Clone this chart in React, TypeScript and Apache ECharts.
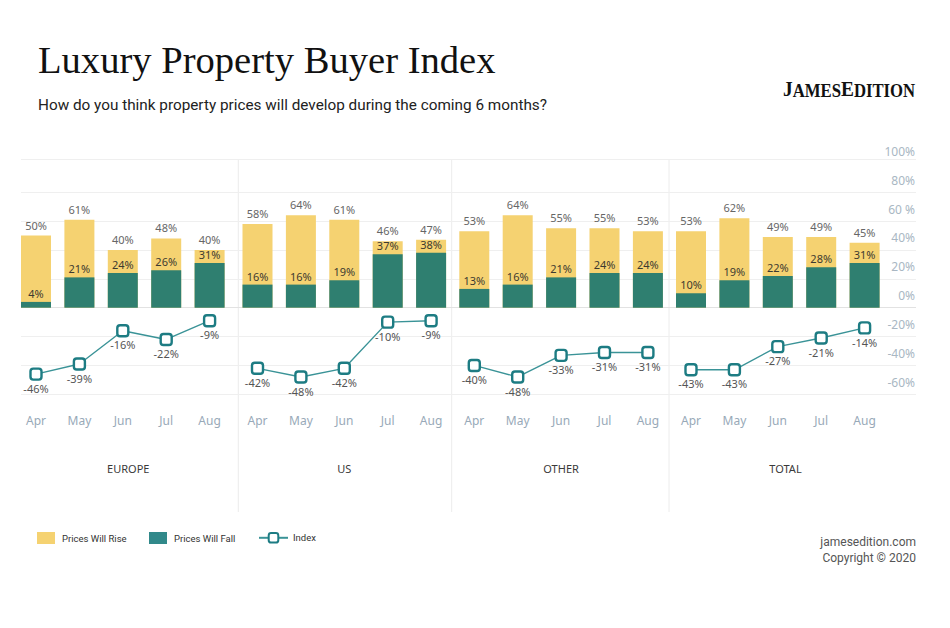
import React, { useEffect, useRef } from "react";
import * as echarts from "echarts";

// ---------- data ----------
const panels = ["EUROPE", "US", "OTHER", "TOTAL"];
const months = ["Apr", "May", "Jun", "Jul", "Aug"];

const riseEurope = [50, 61, 40, 48, 40];
const fallEurope = [4, 21, 24, 26, 31];
const indexEurope = [-46, -39, -16, -22, -9];

const riseUS = [58, 64, 61, 46, 47];
const fallUS = [16, 16, 19, 37, 38];
const indexUS = [-42, -48, -42, -10, -9];

const riseOther = [53, 64, 55, 55, 53];
const fallOther = [13, 16, 21, 24, 24];
const indexOther = [-40, -48, -33, -31, -31];

const riseTotal = [53, 62, 49, 49, 45];
const fallTotal = [10, 19, 22, 28, 31];
const indexTotal = [-43, -43, -27, -21, -14];

const yTickValues = [-60, -40, -20, 0, 20, 40, 60, 80, 100];
const yTickLabels = ["-60%", "-40%", "-20%", "0%", "20%", "40%", "60 %", "80%", "100%"];

const SERIES_RISE = "Prices Will Rise";
const SERIES_FALL = "Prices Will Fall";
const SERIES_INDEX = "Index";

// ---------- layout / style ----------
const W = 950;
const H = 628;
const GRID_TOP = 159.3;
const GRID_BOTTOM = H - 394.3;
const Y_MIN = -60;
const Y_MAX = 102.8;
const Y_INT = 20;
const PANEL_LEFT = [14.3, 235.8, 452.6, 669.3];
const PANEL_WIDTH = 217;
const PANEL_NAME_SHIFT = [5.5, 0, 0, 7.7];
const DIVIDER_X = [238.3, 451.7, 669];
const DIVIDER_BOTTOM = 512;

const YELLOW = "#f5d271";
const TEAL = "#2f7f70";
const TEAL_LEGEND = "#31898a";
const LINE_COLOR = "#3a9397";
const MARKER_COLOR = "#1d7c83";

const riseData = [riseEurope, riseUS, riseOther, riseTotal];
const fallData = [fallEurope, fallUS, fallOther, fallTotal];
const indexData = [indexEurope, indexUS, indexOther, indexTotal];

function buildOption(): any {
  const splitColors = yTickValues.map((v) =>
    v === 0 ? "#e2e2e2" : v === 100 ? "rgba(0,0,0,0)" : "#efefef"
  );
  splitColors.push("#efefef"); // top border at max extent

  const grids: any[] = [
    { left: 21, right: W - 916, top: GRID_TOP, bottom: GRID_BOTTOM },
    ...PANEL_LEFT.map((l) => ({ left: l, width: PANEL_WIDTH, top: GRID_TOP, bottom: GRID_BOTTOM })),
  ];

  const xAxes: any[] = [
    { gridIndex: 0, type: "value", show: false, min: 0, max: 1 },
    ...panels.map((p, i) => ({
      gridIndex: i + 1,
      type: "category",
      data: months,
      axisLine: { show: false },
      axisTick: { show: false },
      splitLine: { show: false },
      axisLabel: { color: "#98a9b8", fontSize: 12, fontFamily: "Noto Sans", margin: 20 },
      name: p,
      nameLocation: "middle",
      nameGap: 69,
      nameTextStyle: {
        color: "#3a3a3a",
        fontSize: 11,
        fontFamily: "Noto Sans",
        padding: [0, 0, 0, PANEL_NAME_SHIFT[i] * 2],
      },
    })),
  ];

  const yAxes: any[] = [
    {
      gridIndex: 0,
      type: "value",
      position: "right",
      min: Y_MIN,
      max: Y_MAX,
      interval: Y_INT,
      axisLine: { show: false },
      axisTick: { show: false },
      axisLabel: {
        inside: true,
        margin: 1,
        color: "#a9b7c3",
        fontSize: 12,
        fontFamily: "Noto Sans",
        verticalAlign: "bottom",
        padding: [0, 0, 6, 0],
        formatter: (v: number) => {
          const k = yTickValues.indexOf(Math.round(v * 1000) / 1000);
          return k >= 0 ? yTickLabels[k] : "";
        },
      },
      splitLine: { show: true, lineStyle: { color: splitColors, width: 1 } },
    },
    ...panels.map((_, i) => ({
      gridIndex: i + 1,
      type: "value",
      min: Y_MIN,
      max: Y_MAX,
      interval: Y_INT,
      show: false,
    })),
  ];

  const series: any[] = [];
  panels.forEach((_, i) => {
    series.push({
      type: "bar",
      name: SERIES_RISE,
      xAxisIndex: i + 1,
      yAxisIndex: i + 1,
      data: riseData[i],
      barWidth: 30,
      barGap: "-100%",
      itemStyle: { color: YELLOW },
      label: {
        show: true,
        position: "top",
        distance: 5,
        formatter: "{c}%",
        color: "#666",
        fontSize: 11,
        fontFamily: "Noto Sans",
      },
      z: 2,
    });
    series.push({
      type: "bar",
      name: SERIES_FALL,
      xAxisIndex: i + 1,
      yAxisIndex: i + 1,
      data: fallData[i],
      barWidth: 30,
      barGap: "-100%",
      itemStyle: { color: TEAL },
      label: {
        show: true,
        position: "top",
        distance: 3,
        formatter: "{c}%",
        color: "#3d3a30",
        fontSize: 11,
        fontFamily: "Noto Sans",
      },
      z: 3,
    });
    series.push({
      type: "line",
      name: SERIES_INDEX,
      xAxisIndex: i + 1,
      yAxisIndex: i + 1,
      data: indexData[i],
      symbol: "roundRect",
      symbolSize: 11,
      showAllSymbol: true,
      itemStyle: { color: "#ffffff", borderColor: MARKER_COLOR, borderWidth: 2.4 },
      lineStyle: { color: LINE_COLOR, width: 1.4 },
      label: {
        show: true,
        position: "bottom",
        distance: 2,
        formatter: "{c}%",
        color: "#555",
        fontSize: 11,
        fontFamily: "Noto Sans",
      },
      z: 4,
    });
  });

  const legendText = { color: "#333", fontSize: 9.5, fontFamily: "Roboto", padding: [0, 0, 0, 2] };
  const legends: any[] = [
    {
      left: 37, top: 532, padding: 0, itemWidth: 18, itemHeight: 12, selectedMode: false,
      data: [{ name: SERIES_RISE, icon: "rect" }], textStyle: legendText,
    },
    {
      left: 149, top: 532, padding: 0, itemWidth: 18, itemHeight: 12, selectedMode: false,
      data: [{ name: SERIES_FALL, icon: "rect", itemStyle: { color: TEAL_LEGEND } }], textStyle: legendText,
    },
    {
      left: 258, top: 532, padding: 0, itemWidth: 29, itemHeight: 12, selectedMode: false,
      data: [SERIES_INDEX], textStyle: { ...legendText, padding: [0, 0, 0, 0] },
    },
  ];

  const graphic: any[] = [
    {
      type: "text", x: 38, y: 60,
      style: {
        text: "Luxury Property Buyer Index", fontFamily: "Liberation Serif", fontSize: 38.6,
        fill: "#111", align: "left", verticalAlign: "middle",
      },
    },
    {
      type: "text", x: 38, y: 105,
      style: {
        text: "How do you think property prices will develop during the coming 6 months?",
        fontFamily: "Roboto", fontSize: 15.3, fill: "#222", align: "left", verticalAlign: "middle",
      },
    },
    {
      type: "text", x: 783, y: 100, scaleX: 0.88,
      style: {
        text: "{b|J}{s|AMES}{b|E}{s|DITION}",
        align: "left", verticalAlign: "bottom", fill: "#111",
        rich: {
          b: { fontFamily: "Liberation Serif", fontWeight: "bold", fontSize: 22, verticalAlign: "bottom", fill: "#111" },
          s: { fontFamily: "Liberation Serif", fontWeight: "bold", fontSize: 19, verticalAlign: "bottom", fill: "#111" },
        },
      },
    },
    {
      type: "text", x: 916, y: 542,
      style: { text: "jamesedition.com", fontFamily: "Roboto", fontSize: 12, fill: "#555", align: "right", verticalAlign: "middle" },
    },
    {
      type: "text", x: 916, y: 558,
      style: { text: "Copyright © 2020", fontFamily: "Roboto", fontSize: 12, fill: "#555", align: "right", verticalAlign: "middle" },
    },
    ...DIVIDER_X.map((x) => ({
      type: "line", z: 0, silent: true,
      shape: { x1: x, y1: GRID_TOP, x2: x, y2: DIVIDER_BOTTOM },
      style: { stroke: "#ececec", lineWidth: 1 },
    })),
  ];

  return {
    animation: false,
    backgroundColor: "#ffffff",
    textStyle: { fontFamily: "Noto Sans" },
    grid: grids,
    xAxis: xAxes,
    yAxis: yAxes,
    legend: legends,
    series,
    graphic,
  };
}

export default function App() {
  const ref = useRef<HTMLDivElement>(null);
  useEffect(() => {
    if (!ref.current) return;
    const chart = echarts.init(ref.current, undefined, { renderer: "svg" });
    chart.setOption(buildOption());
    return () => chart.dispose();
  }, []);
  return (
    <div
      ref={ref}
      style={{ position: "fixed", left: 0, top: 0, width: W, height: H, background: "#fff" }}
    />
  );
}
